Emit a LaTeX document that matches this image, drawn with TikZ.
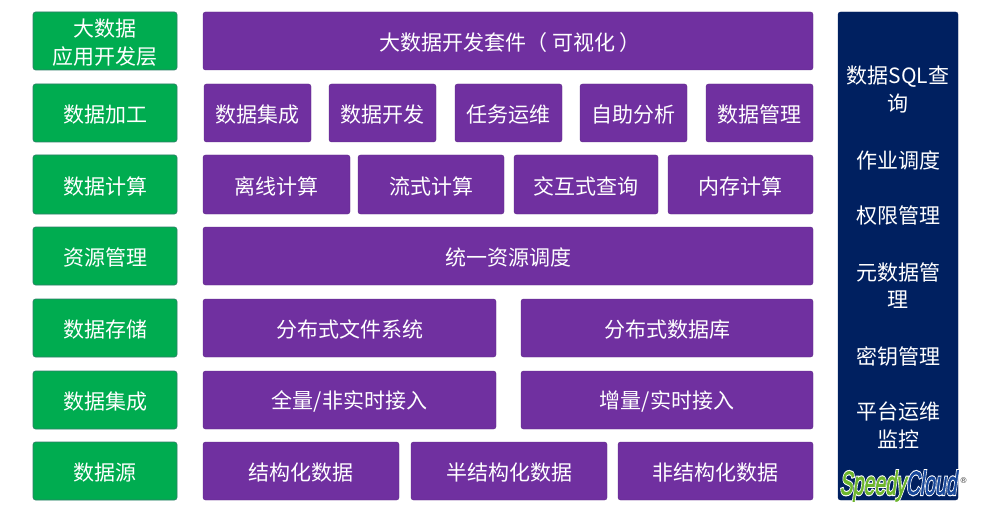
\documentclass[tikz,border=0pt]{standalone}
\usepackage{fontspec}
\setmainfont{Noto Sans CJK SC}[BoldFont={Noto Sans CJK SC}]
\newfontfamily\logofont[FakeSlant=0.25,FakeBold=2]{Liberation Sans}
\newfontfamily\logohalo[FakeSlant=0.25,FakeBold=9]{Liberation Sans}
\newfontfamily\regfont{DejaVu Sans}
\definecolor{grn}{HTML}{00AC50}
\definecolor{grnedge}{HTML}{2F7F68}
\definecolor{pur}{HTML}{7030A0}
\definecolor{navy}{HTML}{002060}
\definecolor{lgrn}{HTML}{6DB52D}
\definecolor{lblu}{HTML}{17479A}
\tikzset{
  x=1pt,y=-1pt,
  basebox/.style={rounded corners=2.5pt,text=white,align=center,inner sep=0pt,
    font=\fontsize{21}{27.5}\selectfont},
  green box/.style={basebox,fill=grn,draw=grnedge,line width=0.6pt},
  purple box/.style={basebox,fill=pur,draw=pur!85!black,line width=0.4pt},
  navy box/.style={basebox,fill=navy,draw=navy},
  side label/.style={text=white,align=center,inner sep=0pt,font=\fontsize{21}{27.5}\selectfont}
}
\newcommand{\bx}[7]{%
  \path let \n1={#4-#2}, \n2={#5-#3} in
   node[#1,minimum width=\n1*1pt,minimum height=\n2*1pt,anchor=center] (#6) at ({(#2+#4)/2},{(#3+#5)/2}) {\rule{0pt}{21pt}#7};}
\usetikzlibrary{calc}
\begin{document}
\begin{tikzpicture}
\useasboundingbox (0,0) rectangle (992,513);
\fill[white] (0,0) rectangle (992,513);
% left column
\bx{green box}{33}{12}{177}{70}{la}{大数据\\应用开发层}
\bx{green box}{33}{84}{177}{142}{lb}{数据加工}
\bx{green box}{33}{155}{177}{214}{lc}{数据计算}
\bx{green box}{33}{227}{177}{285}{ld}{资源管理}
\bx{green box}{33}{299}{177}{357}{le}{数据存储}
\bx{green box}{33}{371}{177}{429}{lf}{数据集成}
\bx{green box}{33}{442}{177}{500}{lg}{数据源}
% middle
\bx{purple box}{203}{12}{813}{70}{ma}{\hspace{4pt}大数据开发套件（ 可视化 ）}
\bx{purple box}{204}{84}{311}{142}{mb1}{数据集成}
\bx{purple box}{329}{84}{436}{142}{mb2}{数据开发}
\bx{purple box}{455}{84}{562}{142}{mb3}{任务运维}
\bx{purple box}{580}{84}{687}{142}{mb4}{自助分析}
\bx{purple box}{706}{84}{813}{142}{mb5}{数据管理}
\bx{purple box}{203}{155}{350}{214}{mc1}{离线计算}
\bx{purple box}{358}{155}{504}{214}{mc2}{流式计算}
\bx{purple box}{514}{155}{658}{214}{mc3}{交互式查询}
\bx{purple box}{668}{155}{813}{214}{mc4}{内存计算}
\bx{purple box}{203}{227}{813}{285}{md}{统一资源调度}
\bx{purple box}{203}{299}{496}{357}{me1}{分布式文件系统}
\bx{purple box}{521}{299}{813}{357}{me2}{分布式数据库}
\bx{purple box}{203}{371}{496}{429}{mf1}{全量/非实时接入}
\bx{purple box}{521}{371}{813}{429}{mf2}{增量/实时接入}
\bx{purple box}{203}{442}{399}{500}{mg1}{结构化数据}
\bx{purple box}{411}{442}{607}{500}{mg2}{半结构化数据}
\bx{purple box}{618}{442}{813}{500}{mg3}{非结构化数据}
% right panel
\path node[navy box,minimum width=120pt,minimum height=488pt] (panel) at (898,256) {};
\node[side label] (s1) at (898,89.5) {数据SQL查\\询};
\node[side label] (s2) at (898,160) {作业调度};
\node[side label] (s3) at (898,216) {权限管理};
\node[side label] (s4) at (898,285.5) {元数据管\\理};
\node[side label] (s5) at (898,356) {密钥管理};
\node[side label] (s6) at (898,425.5) {平台运维\\监控};
% logo
\node[inner sep=0pt,text=white,font=\logohalo\fontsize{25}{25}\selectfont] (logoh) at (898,486) {\resizebox{117pt}{24pt}{SpeedyCloud}};
\node[inner sep=0pt,font=\logofont\fontsize{25}{25}\selectfont] (logo) at (898,486) {\resizebox{117pt}{24pt}{\textcolor{lgrn}{Speedy}\textcolor{lblu}{Cloud}}};
\node[inner sep=0pt,text=black!75,font=\regfont\fontsize{8}{8}\selectfont] (reg) at (963.5,481) {®};
\end{tikzpicture}
\end{document}
